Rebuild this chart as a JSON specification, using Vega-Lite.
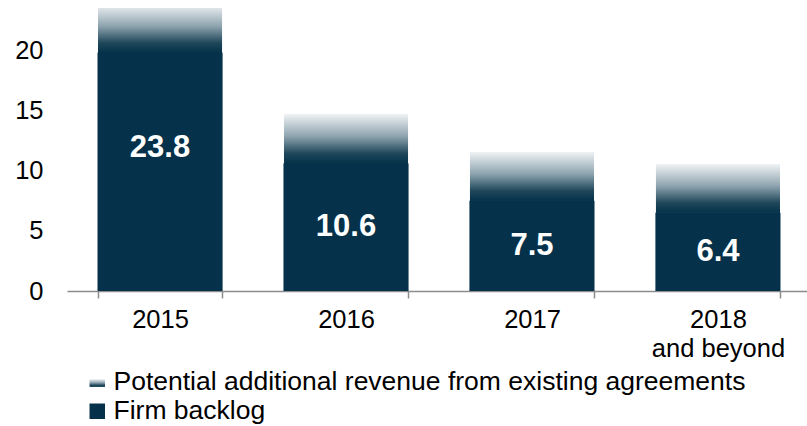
{
  "$schema": "https://vega.github.io/schema/vega-lite/v6.json",
  "width": 744,
  "height": 283,
  "autosize": {"type": "none"},
  "padding": {"left": 67, "top": 8, "right": 0, "bottom": 135},
  "background": "white",
  "config": {
    "view": {"stroke": null},
    "font": "Liberation Sans"
  },
  "data": {
    "values": [
      {"year": "2015", "series": "Firm backlog", "value": 19.8, "label": "23.8", "labelValue": 23.8},
      {"year": "2015", "series": "Potential additional revenue from existing agreements", "value": 4.0},
      {"year": "2016", "series": "Firm backlog", "value": 10.6, "label": "10.6", "labelValue": 10.6},
      {"year": "2016", "series": "Potential additional revenue from existing agreements", "value": 4.1},
      {"year": "2017", "series": "Firm backlog", "value": 7.5, "label": "7.5", "labelValue": 7.5},
      {"year": "2017", "series": "Potential additional revenue from existing agreements", "value": 4.05},
      {"year": "2018 and beyond", "series": "Firm backlog", "value": 6.5, "label": "6.4", "labelValue": 6.4},
      {"year": "2018 and beyond", "series": "Potential additional revenue from existing agreements", "value": 4.05}
    ]
  },
  "encoding": {
    "x": {
      "field": "year",
      "type": "nominal",
      "sort": null,
      "scale": {"paddingInner": 0.333, "paddingOuter": 0.1667},
      "axis": {
        "title": null,
        "labelAngle": 0,
        "labelFontSize": 25.5,
        "labelColor": "#000000",
        "labelPadding": 9,
        "labelLineHeight": 29,
        "labelExpr": "datum.label == '2018 and beyond' ? ['2018', 'and beyond'] : datum.label",
        "domainColor": "#8c8c8c",
        "domainWidth": 1.5,
        "tickColor": "#8c8c8c",
        "tickWidth": 1.5,
        "tickSize": 7,
        "tickBand": "extent",
        "grid": false
      }
    }
  },
  "layer": [
    {
      "transform": [{"filter": "datum.series == 'Firm backlog'"}],
      "mark": {"type": "bar", "clip": true, "fill": "#05324a", "stroke": "#05324a", "strokeWidth": 1},
      "encoding": {
        "y": {
          "field": "value",
          "type": "quantitative",
          "scale": {"domain": [0, 23.5], "nice": false, "zero": true},
          "axis": {
            "title": null,
            "values": [0, 5, 10, 15, 20],
            "labelFontSize": 25.5,
            "labelColor": "#000000",
            "labelPadding": 24,
            "domain": false,
            "ticks": false,
            "grid": false
          }
        }
      }
    },
    {
      "mark": {"type": "bar", "clip": true},
      "encoding": {
        "y": {"field": "value", "type": "quantitative", "stack": "zero"},
        "order": {"field": "series", "sort": "ascending"},
        "color": {
          "field": "series",
          "type": "nominal",
          "scale": {
            "domain": ["Potential additional revenue from existing agreements", "Firm backlog"],
            "range": [
              {"expr": "{gradient: 'linear', x1: 0, y1: 0, x2: 0, y2: 1, stops: [{offset: 0, color: '#f0f3f5'}, {offset: 0.45, color: '#8ea4af'}, {offset: 0.8, color: '#1f475a'}, {offset: 1, color: '#05324a'}]}"},
              "#05324a"
            ]
          },
          "legend": {
            "title": null,
            "orient": "none",
            "legendX": 17,
            "legendY": 361,
            "padding": 0,
            "labelFontSize": 26.5,
            "labelColor": "#000000",
            "labelLimit": 800,
            "symbolType": "square",
            "symbolSize": 240,
            "symbolStrokeWidth": 0,
            "labelOffset": 3,
            "rowPadding": 2,
            "encode": {
              "symbols": {
                "update": {
                  "shape": {"signal": "datum.value == 'Firm backlog' ? 'square' : 'M-1,-0.4H1V0.6H-1Z'"}
                }
              }
            }
          }
        }
      }
    },
    {
      "transform": [
        {"filter": "datum.series == 'Firm backlog'"},
        {"calculate": "datum.labelValue / 2", "as": "mid"}
      ],
      "mark": {"type": "text", "color": "white", "fontSize": 31, "fontWeight": "bold", "baseline": "middle"},
      "encoding": {
        "y": {"field": "mid", "type": "quantitative"},
        "text": {"field": "label"}
      }
    }
  ]
}
